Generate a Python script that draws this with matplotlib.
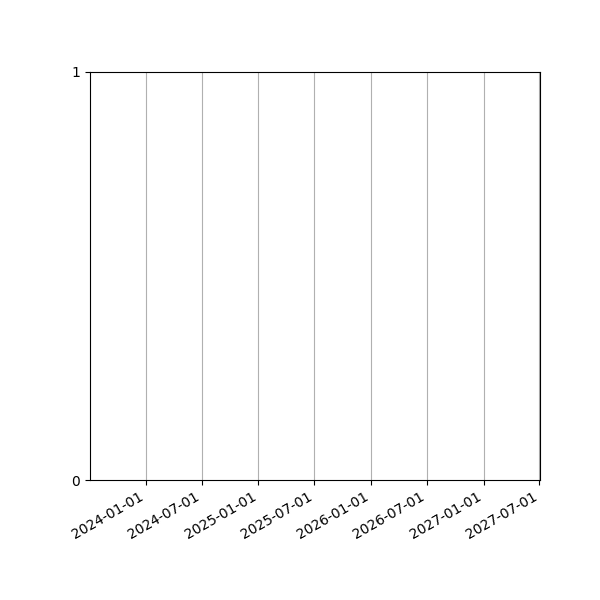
import matplotlib
matplotlib.use("Agg")
import matplotlib.pyplot as plt
import matplotlib.dates as mdates
import datetime as dt

# Data (the chart is empty: only axes ranges and ticks)
x_start = "2023-07-05"
x_end = "2027-07-03"
tick_dates = ["2024-01-01", "2024-07-01", "2025-01-01", "2025-07-01",
              "2026-01-01", "2026-07-01", "2027-01-01", "2027-07-01"]
y_ticks = [0, 1]

def d(s):
    return dt.datetime.strptime(s, "%Y-%m-%d")

fig = plt.figure(figsize=(6, 6), dpi=100)
ax = fig.add_axes([0.15, 0.2, 0.75, 0.68])
ax.set_xlim(d(x_start), d(x_end))
ax.set_ylim(0, 1)
ax.set_xticks([d(t) for t in tick_dates])
ax.xaxis.set_major_formatter(mdates.DateFormatter("%Y-%m-%d"))
ax.set_yticks(y_ticks)
ax.grid(True, axis="x")
for lab in ax.get_xticklabels():
    lab.set_rotation(30)
    lab.set_ha("right")
fig.savefig("out.png", dpi=100)
